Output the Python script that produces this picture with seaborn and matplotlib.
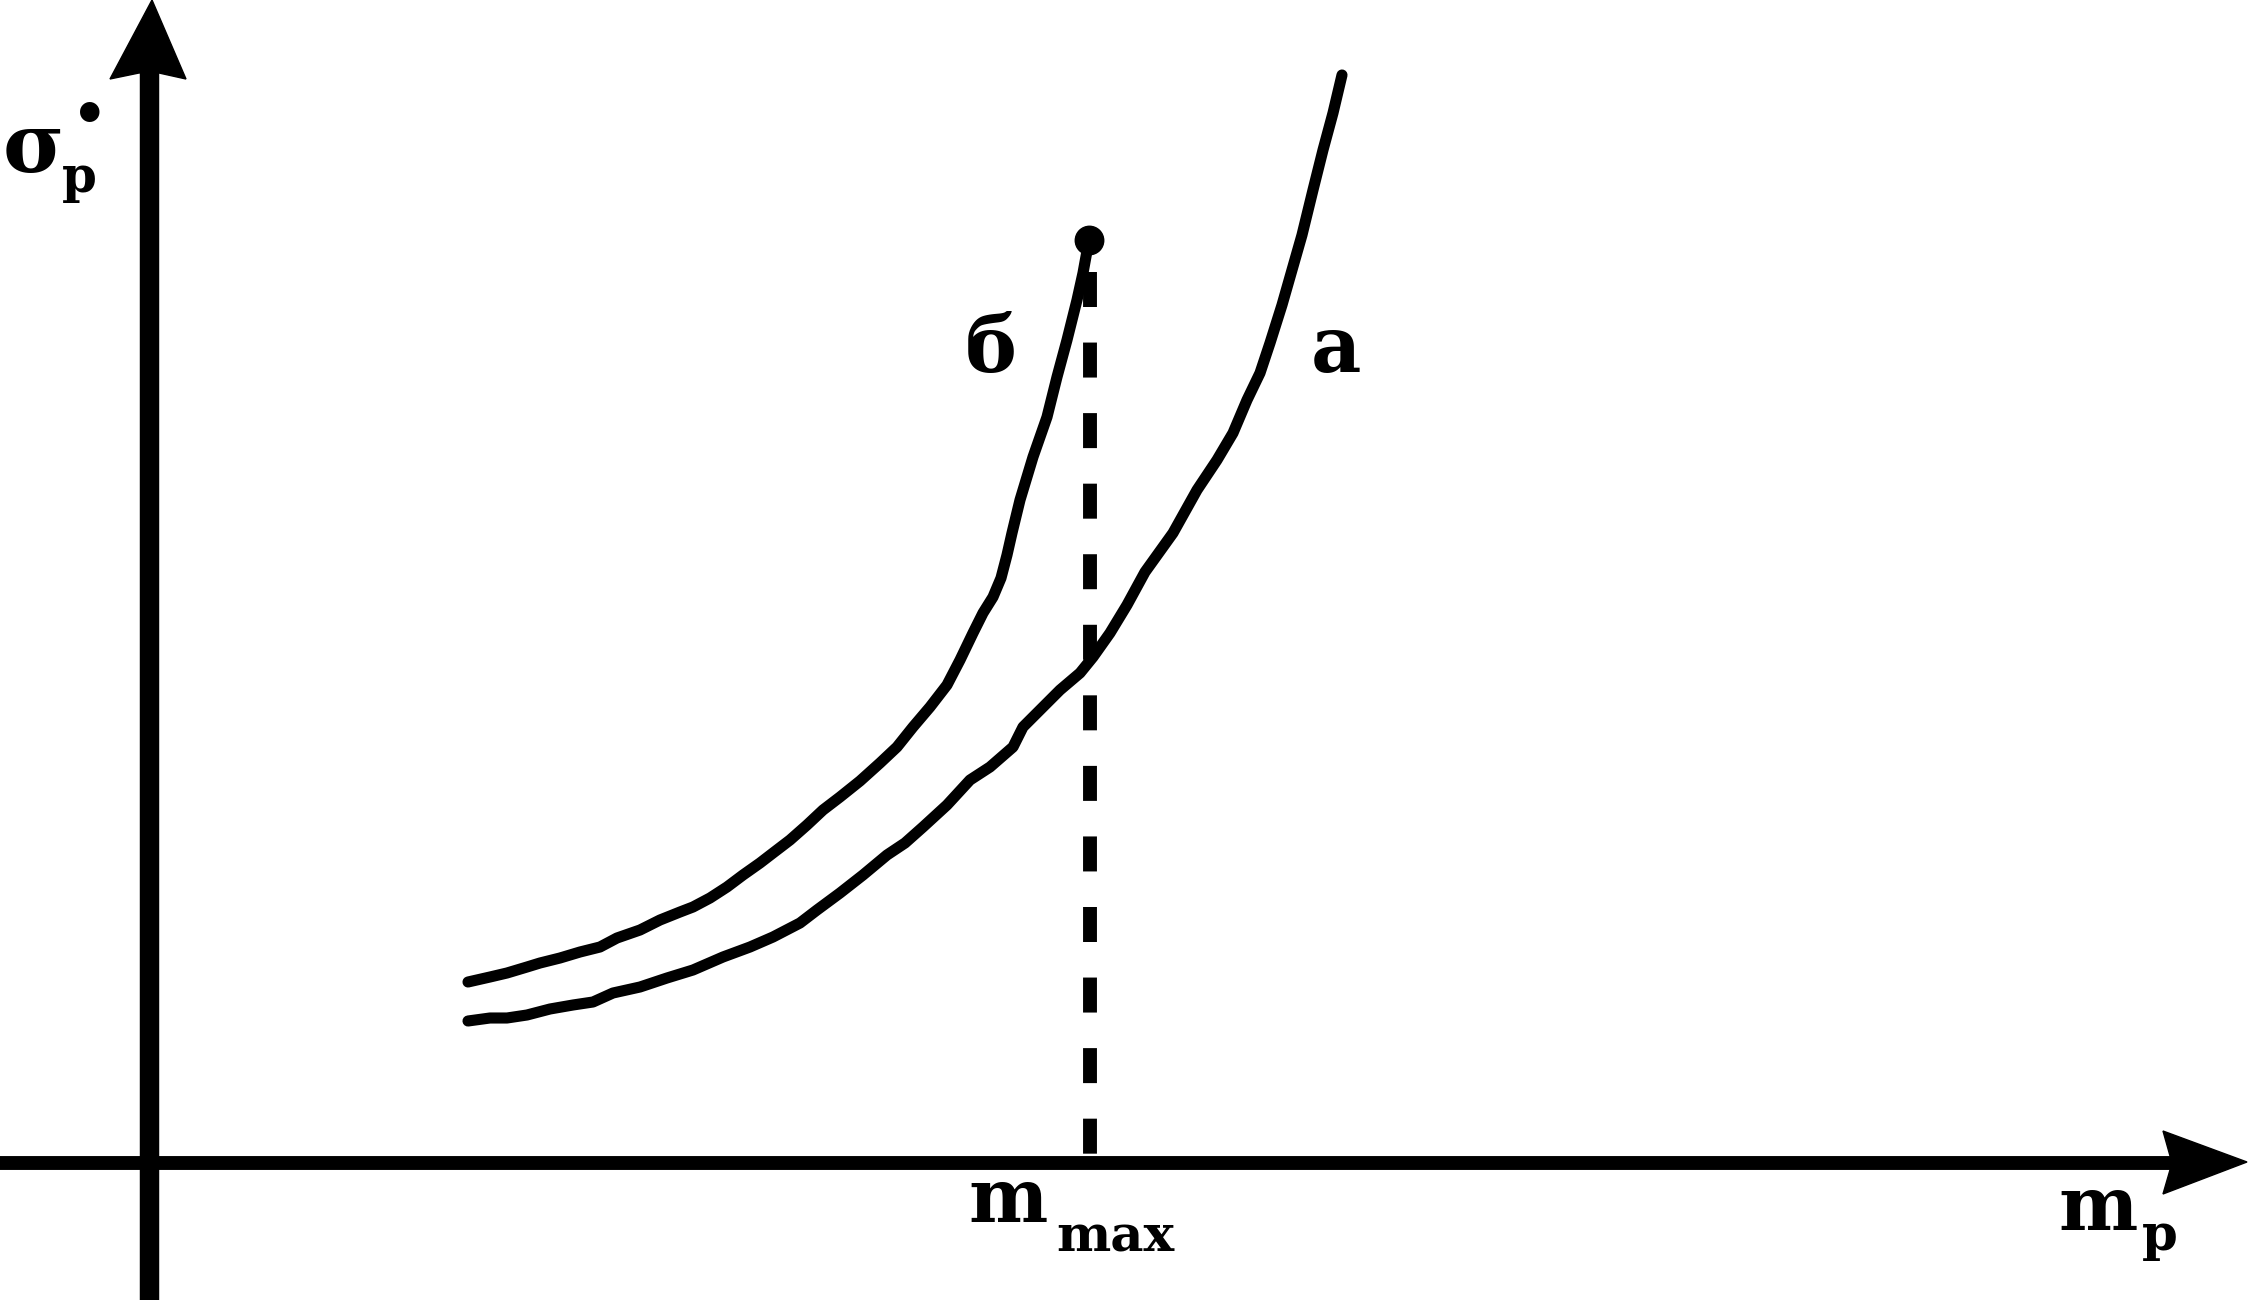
import numpy as np
import pandas as pd
import seaborn as sns
import matplotlib
matplotlib.use("Agg")
import matplotlib.pyplot as plt
from matplotlib.transforms import Affine2D
from matplotlib.patches import Polygon

# ---- data (arbitrary units, origin at the axes crossing) ----
curve_a_x = [319, 341, 358, 378, 401, 424, 444, 464, 491, 518, 544, 574, 601, 624, 651, 668,
             691, 714, 738, 756, 774, 798, 821, 841, 864, 874, 891, 911, 931, 944, 961, 978,
             996, 1024, 1048, 1068, 1084, 1098, 1111, 1121, 1133, 1143, 1153, 1164, 1174,
             1184, 1193]
curve_a_y = [142, 145, 145, 148, 154, 158, 161, 170, 176, 185, 193, 206, 216, 226, 240, 253,
             270, 288, 308, 320, 336, 358, 383, 396, 416, 436, 453, 473, 490, 506, 530, 558,
             591, 630, 673, 703, 730, 763, 790, 820, 858, 893, 928, 973, 1013, 1050, 1088]
curve_b_x = [319, 341, 358, 378, 391, 411, 431, 451, 468, 491, 511, 531, 544, 561, 578, 594,
             611, 624, 641, 658, 674, 691, 711, 731, 748, 764, 781, 798, 811, 824, 834, 844,
             852, 858, 863, 871, 884, 898, 908, 918, 928, 934, 940]
curve_b_y = [181, 186, 190, 196, 200, 205, 211, 216, 225, 233, 243, 251, 256, 265, 276, 288,
             300, 310, 323, 338, 353, 366, 382, 400, 416, 436, 456, 478, 503, 530, 550, 566,
             585, 608, 630, 663, 706, 746, 786, 823, 863, 890, 923]
m_max = 941
m_max_top = 891
curve_labels = ["a", "б"]

W, H = 2248, 1300
sns.set_theme(style="white")
plt.rcParams['font.family'] = ['DejaVu Serif', 'DejaVu Sans']

fig = plt.figure(figsize=(W / 100, H / 100), dpi=100)
ax = fig.add_axes([0, 0, 1, 1])
ox, oy = 149, 1163
ax.set_xlim(-ox, W - ox)
ax.set_ylim(-(H - oy), oy)
ax.axis("off")

df = pd.concat([
    pd.DataFrame({"m": curve_a_x, "s": curve_a_y, "curve": curve_labels[0]}),
    pd.DataFrame({"m": curve_b_x, "s": curve_b_y, "curve": curve_labels[1]}),
])
sns.lineplot(data=df, x="m", y="s", hue="curve", palette=["black", "black"],
             sort=False, estimator=None, lw=8, legend=False, ax=ax)
for ln in ax.get_lines():
    ln.set_solid_capstyle("round")
    ln.set_solid_joinstyle("round")

# end dot of curve б
ax.scatter([curve_b_x[-1]], [curve_b_y[-1]], s=420, color="black", zorder=5)

# dashed m_max line
lw_d = 10
ax.plot([m_max, m_max], [m_max_top, 0], color="black", lw=lw_d,
        dashes=(25.2 / lw_d, 25.6 / lw_d), dash_capstyle="butt")

# axes with arrows (pixel space)
pix = Affine2D().scale(1 / W, -1 / H).translate(0, 1) + fig.transFigure
fig.add_artist(plt.Line2D([149, 149], [1300, 70], color="black", lw=14, transform=pix))
fig.add_artist(plt.Line2D([0, 2175], [1163, 1163], color="black", lw=10, transform=pix))
fig.add_artist(Polygon([(152, 0), (186, 79), (159, 73), (139, 73), (110, 79)],
                       closed=True, color="black", transform=pix))
fig.add_artist(Polygon([(2247, 1162), (2163, 1131), (2172, 1163), (2163, 1194)],
                       closed=True, color="black", transform=pix))

def txt(x, y, s, size):
    fig.text(x, y, s, transform=pix, fontsize=size, fontweight="bold",
             ha="left", va="baseline", color="black")

txt(968, 1222, "m", 54)
txt(1056, 1252, "max", 37)
txt(2058, 1230, "m", 54)
txt(2142, 1250, "p", 37)
txt(3, 172, "σ", 60)
txt(62, 192, "p", 36)
txt(72, 133, "•", 40)
txt(965, 372, curve_labels[1], 56)
txt(1311, 372, curve_labels[0], 56)

fig.savefig("out.png", dpi=100, facecolor="white")
